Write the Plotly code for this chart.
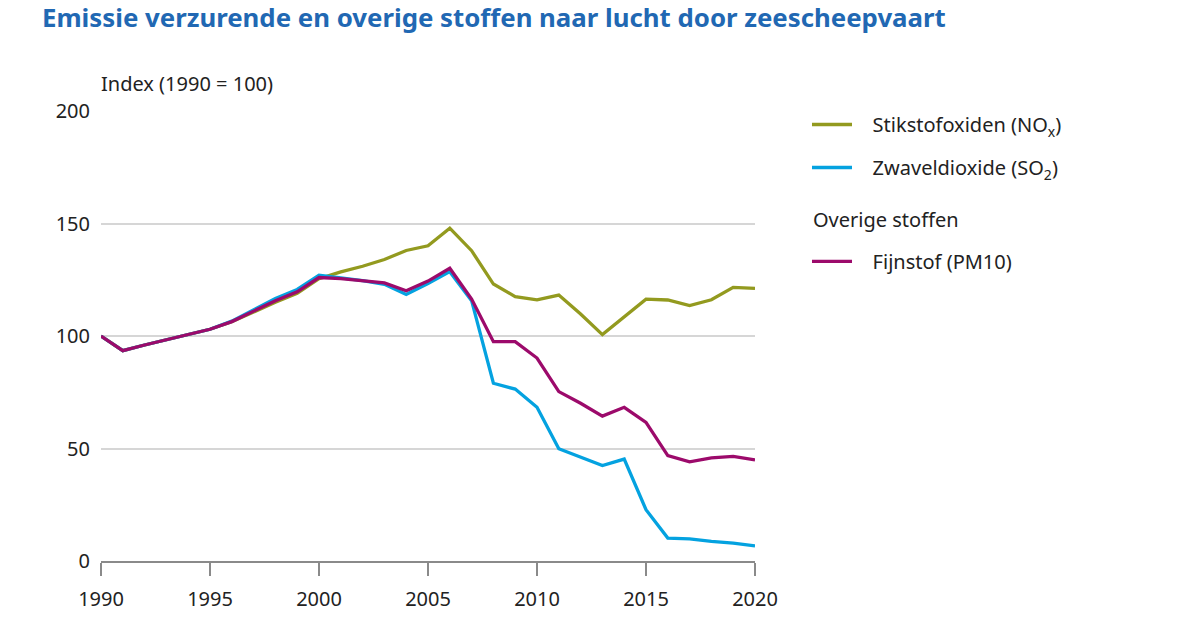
import plotly.graph_objects as go

years = list(range(1990, 2021))
nox = [100, 93.5, 96, 98.3, 100.5, 103, 106.3, 110.7, 115, 119, 125.5,
       128.5, 131, 134, 138, 140.1, 147.9, 137.9, 123.1, 117.5, 116.1,
       118.2, 109.8, 100.6, 108.3, 116.4, 116.0, 113.5, 116.1, 121.6, 121.2]
so2 = [100, 93.5, 96, 98.3, 100.5, 103, 106.6, 111.8, 116.7, 120.7, 127,
       125.8, 124.6, 123, 118.5, 123.3, 128.6, 115.7, 79.0, 76.4, 68.3,
       49.9, 46.1, 42.4, 45.3, 22.8, 10.2, 9.8, 8.7, 7.9, 6.7]
pm10 = [100, 93.5, 96, 98.3, 100.5, 103, 106.4, 111, 115.7, 119.6, 126,
        125.5, 124.6, 123.6, 120.1, 124.4, 130.1, 116.4, 97.5, 97.5, 90.2,
        75.3, 70.1, 64.4, 68.3, 61.6, 46.8, 44.1, 45.8, 46.5, 44.9]

names = ["Stikstofoxiden (NO<sub>x</sub>)", "Zwaveldioxide (SO<sub>2</sub>)", "Fijnstof (PM10)"]
colors = ["#939a1f", "#04a2e0", "#9c0a6b"]
groups = ["a", "b", "c"]
legends = ["legend", "legend", "legend2"]
group_heading = "Overige stoffen"
title = "Emissie verzurende en overige stoffen naar lucht door zeescheepvaart"
ytitle = "Index (1990 = 100)"
xticks = [1990, 1995, 2000, 2005, 2010, 2015, 2020]
yticks = [0, 50, 100, 150, 200]

FONT = "Noto Sans"
FS = 20
PAD = "\u00a0\u00a0\u00a0"
fig = go.Figure()
for name, vals, col, grp, lg in zip(names, [nox, so2, pm10], colors, groups, legends):
    fig.add_trace(go.Scatter(x=years, y=vals, mode="lines", name=PAD + name,
                             line=dict(color=col, width=3.3),
                             legendgroup=grp, legend=lg))

legend_common = dict(xanchor="left", yanchor="top", traceorder="grouped",
                     font=dict(size=FS, color="#222"), itemwidth=40,
                     bgcolor="rgba(0,0,0,0)")

fig.update_layout(
    width=1200, height=630,
    margin=dict(l=101, r=445, t=111, b=69),
    paper_bgcolor="white", plot_bgcolor="white",
    font=dict(family=FONT, size=FS, color="#222"),
    title=dict(text=f"<b>{title}</b>", x=42 / 1200, xanchor="left",
               y=1 - 18 / 630, yanchor="middle",
               font=dict(family=FONT, size=25.8, color="#2168b3")),
    xaxis=dict(range=[1990, 2020], tickvals=xticks, showgrid=False, showline=True,
               linecolor="#8a8a8a", linewidth=1.5, ticks="outside", ticklen=13,
               tickcolor="#8a8a8a", tickwidth=1.5, zeroline=False,
               ticklabelstandoff=6, tickfont=dict(size=FS, color="#222")),
    yaxis=dict(range=[0, 200], tickvals=yticks, showgrid=True, gridcolor="#d6d6d6",
               gridwidth=1.5, zeroline=False, showline=False, ticks="",
               ticklabelstandoff=10, tickfont=dict(size=FS, color="#222")),
    legend=dict(x=1.0795, y=1.0133, tracegroupgap=14, **legend_common),
    legend2=dict(x=1.0795, y=0.709, **legend_common),
    annotations=[
        dict(text=ytitle, xref="paper", yref="paper", x=-0.003, y=(561 - 83) / 450,
             xanchor="left", yanchor="middle", showarrow=False,
             font=dict(size=FS, color="#222")),
        dict(text=group_heading, xref="paper", yref="paper", x=1.0857,
             y=(561 - 219) / 450, xanchor="left", yanchor="middle", showarrow=False,
             font=dict(size=FS, color="#222")),
    ],
)

fig.write_html("out.html", config={"displayModeBar": False},
               post_script="document.body.style.margin='0';")
